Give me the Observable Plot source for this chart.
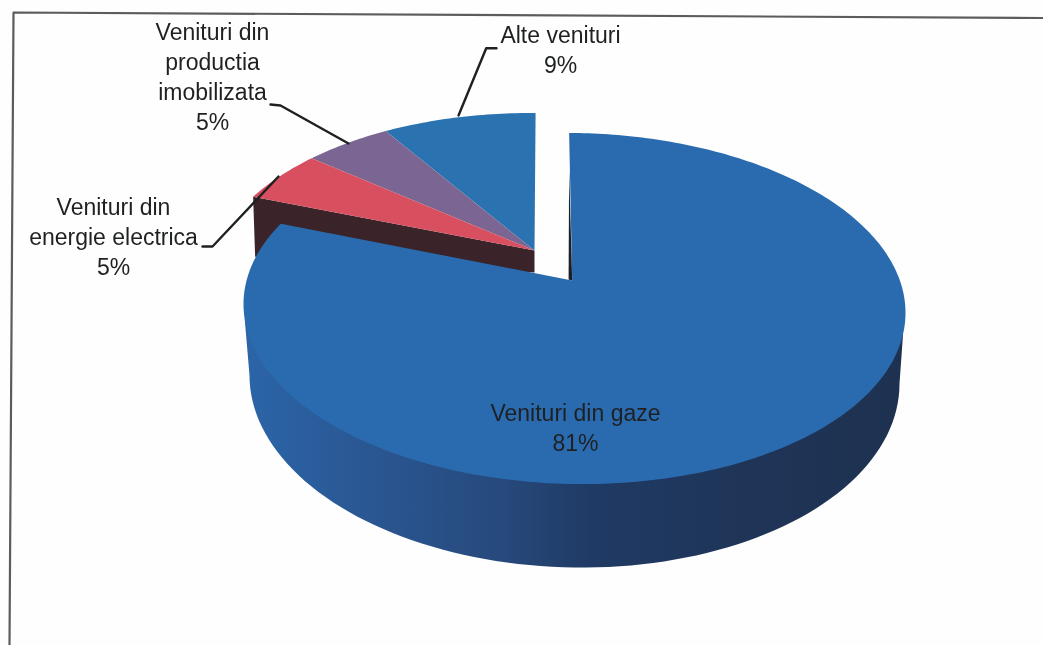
<!DOCTYPE html>
<html>
<head>
<meta charset="utf-8">
<script src="https://cdn.jsdelivr.net/npm/d3@7"></script>
<script src="https://cdn.jsdelivr.net/npm/@observablehq/plot@0.6"></script>
<style>
  html, body { margin: 0; padding: 0; background: #fefefe; }
  svg { display: block; filter: blur(0.55px); }
</style>
</head>
<body>
<div id="chart"></div>
<script>
// Data
const categories = ["Venituri din gaze", "Venituri din energie electrica", "Venituri din productia imobilizata", "Alte venituri"];
const shares = [80.5, 5, 5, 8.8];
const printed = ["81%", "5%", "5%", "9%"];
const labelLines = [
  ["Venituri din gaze"],
  ["Venituri din", "energie electrica"],
  ["Venituri din", "productia", "imobilizata"],
  ["Alte venituri"]
];

// Styling and page geometry
const faceColors = ["#2a6bb0", "#d8505f", "#7b6693", "#2b72b0"];
const sideStops = [[0, "#2b65a8"], [0.17, "#2a5894"], [0.38, "#274a7d"], [0.53, "#1f3a64"], [0.75, "#1f3558"], [1, "#1e3150"]];
const wallColor = "#3a2429";
const inkColor = "#1e2022";
const W = 1043, H = 645;
const tilt = 0.013;        // the scan is slightly rotated
const squash = 0.165;      // perspective shift of the pie centre inside its rim
const mainRim = {cx: 574, cy: 308, rx: 331, ry: 175.5, apex: [571.7, 280]};
const cutRim = {cx: 539, cy: 288, rx: 331, ry: 175.5, apex: [534, 250]};
const baseRim = {cx: 574, cy: 379, rx: 325, ry: 188};
const mainStart = -1.1;    // the large slice begins just before 12 o'clock
const cutStart = 359.2;    // the exploded group ends just before 12 o'clock

const toRad = Math.PI / 180;
const onEllipse = (e, s, c) => [e.cx + e.rx * s, e.cy - e.ry * c + tilt * e.rx * s];
const byParam = (e, deg) => onEllipse(e, Math.sin(deg * toRad), Math.cos(deg * toRad));
function rimPoint(e, deg) {
  const s = Math.sin(deg * toRad), c = Math.cos(deg * toRad), d = 1 + squash * c;
  return onEllipse(e, s * Math.sqrt(1 - squash * squash) / d, (c + squash) / d);
}
function wedge(name, e, from, to) {
  const pts = [e.apex];
  const n = Math.ceil(Math.abs(to - from));
  for (let i = 0; i <= n; i++) pts.push(rimPoint(e, from + (to - from) * i / n));
  return pts.map(([x, y]) => ({slice: name, x, y}));
}

// Top faces, from the shares
const mainEnd = mainStart + shares[0] * 3.6;
const faces = [];
let cursor = cutStart;
for (let i = 3; i >= 1; i--) {
  const next = cursor - shares[i] * 3.6;
  faces.push(...wedge(categories[i], cutRim, next, cursor));
  cursor = next;
}
const cutEnd = rimPoint(cutRim, cursor);
const mainFace = wedge(categories[0], mainRim, mainStart, mainEnd);

// Outer side of the large slice
const sideOutline = [byParam(mainRim, 97)];
for (let t = 90; t <= 270; t += 2) sideOutline.push(byParam(baseRim, t));
sideOutline.push(byParam(mainRim, 265));
const side = sideOutline.map(([x, y]) => ({x, y}));

// Cut walls
const wall = [cutRim.apex, cutEnd, [cutEnd[0] + 2, cutEnd[1] + 60], [cutRim.apex[0], cutRim.apex[1] + 22]].map(([x, y]) => ({x, y}));
const mainTop = rimPoint(mainRim, mainStart);
const sliver = [[mainTop[0], mainTop[1] + 37], mainRim.apex, [mainRim.apex[0] - 3.6, mainRim.apex[1] - 1]].map(([x, y]) => ({x, y}));

// Leader lines
const leaders = [
  {id: "energie", pts: [[202, 246], [212, 246], [278, 176]]},
  {id: "imob", pts: [[270, 104], [280, 105], [348, 143]]},
  {id: "alte", pts: [[496, 47.7], [485.7, 47.7], [458, 115]]}
].flatMap(d => d.pts.map(([x, y]) => ({id: d.id, x, y})));

// Labels
const labelPos = [[575, 426.3], [113, 235.3], [212, 74.6], [560, 48.1]];
const labels = categories.map((c, i) => ({
  text: [...labelLines[i], printed[i]].join("\n"),
  x: labelPos[i][0],
  y: labelPos[i][1]
}));

// Scanned page frame
const frame = [[1043, 17.5], [13, 12], [9, 645]].map(([x, y]) => ({x, y}));

const gradient = () => {
  const defs = d3.create("svg:defs");
  const g = defs.append("linearGradient").attr("id", "sideShade")
    .attr("gradientUnits", "userSpaceOnUse")
    .attr("x1", 245).attr("x2", 903).attr("y1", 0).attr("y2", 0);
  sideStops.forEach(([o, c]) => g.append("stop").attr("offset", o).attr("stop-color", c));
  return defs.node();
};

const chart = Plot.plot({
  width: W,
  height: H,
  margin: 0,
  style: {background: "#fefefe", overflow: "hidden"},
  x: {domain: [0, W], range: [0, W], axis: null},
  y: {domain: [0, H], range: [0, H], axis: null},
  color: {type: "ordinal", domain: categories, range: faceColors},
  marks: [
    gradient,
    Plot.line(frame, {x: "x", y: "y", stroke: "#5c5c5c", strokeWidth: 2.2}),
    Plot.line(side, {x: "x", y: "y", fill: "url(#sideShade)", stroke: "none"}),
    Plot.line(wall, {x: "x", y: "y", fill: wallColor, stroke: "none"}),
    Plot.line(faces, {x: "x", y: "y", z: "slice", fill: "slice", stroke: "none"}),
    Plot.line(mainFace, {x: "x", y: "y", z: "slice", fill: "slice", stroke: "none"}),
    Plot.line(sliver, {x: "x", y: "y", fill: "#1c2026", stroke: "none"}),
    Plot.line(leaders, {x: "x", y: "y", z: "id", stroke: inkColor, strokeWidth: 2.4}),
    Plot.text(labels, {
      x: "x", y: "y", text: "text",
      fontFamily: "Liberation Sans, Arial, sans-serif",
      fontSize: 23, lineHeight: 1.3,
      textAnchor: "middle", lineAnchor: "middle",
      fill: inkColor
    })
  ]
});
document.getElementById("chart").append(chart);
</script>
</body>
</html>
